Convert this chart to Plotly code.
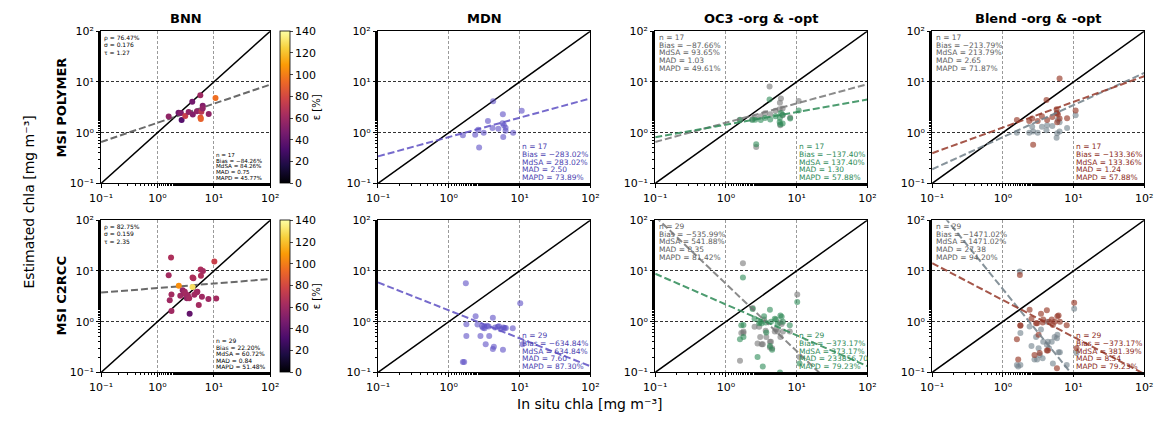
import numpy as np
import plotly.graph_objects as go
from plotly.subplots import make_subplots

# ---------------- data ----------------
col_titles = ["BNN", "MDN", "OC3 -org & -opt", "Blend -org & -opt"]
row_titles = ["MSI POLYMER", "MSI C2RCC"]
tick_vals = [0.1, 1, 10, 100]
tick_text = ["10⁻¹", "10⁰", "10¹", "10²"]
cbar_ticks = [0, 20, 40, 60, 80, 100, 120, 140]

# in situ chla (shared within a row)
insitu_top = [1.58, 2.36, 2.60, 2.68, 3.11, 3.57, 4.14, 4.23, 5.01, 5.75, 5.80, 5.87, 6.00, 6.34, 6.34, 8.10, 10.7]
insitu_bot = [1.58, 1.65, 1.74, 1.77, 1.77, 2.39, 2.54, 2.80, 2.95, 3.05, 3.20, 3.32, 3.46, 3.65, 3.72,
              4.19, 4.19, 4.33, 4.50, 4.91, 5.10, 5.40, 5.82, 5.90, 6.14, 6.40, 8.00, 10.2, 11.0]

# BNN
bnn_top_y = [2.07, 2.47, 2.45, 1.78, 2.13, 2.54, 4.06, 2.29, 2.65, 5.45, 1.98, 1.86, 2.58, 3.40, 3.00, 2.32, 4.84]
bnn_top_eps = [55, 45, 50, 35, 75, 55, 45, 50, 55, 60, 85, 90, 70, 50, 55, 55, 95]
bnn_bot_y = [8.24, 2.64, 18.4, 3.43, 1.63, 5.08, 3.24, 4.15, 3.60, 3.90, 3.45, 2.90, 3.30, 2.88, 1.43,
             7.43, 4.80, 7.20, 3.40, 3.74, 3.90, 2.12, 10.7, 8.00, 3.10, 10.0, 2.80, 15.4, 2.85]
bnn_bot_eps = [62, 60, 65, 62, 60, 105, 60, 55, 58, 60, 62, 55, 60, 62, 40,
               65, 130, 65, 60, 62, 60, 62, 65, 65, 60, 62, 60, 75, 62]

# MDN
mdn_top_y = [0.89, 0.91, 1.14, 0.51, 0.99, 1.69, 1.24, 4.17, 1.19, 1.53, 2.30, 0.82, 1.40, 1.25, 1.09, 1.00, 2.70]
mdn_bot_y = [0.16, 0.16, 5.69, 0.89, 0.52, 1.28, 0.88, 0.52, 0.80, 0.76, 0.74, 0.36, 0.83, 0.80, 0.52,
             1.19, 0.29, 0.32, 0.77, 0.79, 0.81, 0.71, 0.28, 0.77, 0.75, 0.75, 0.74, 2.30, 0.36]

# OC3 (-opt green, -org gray)
oc3_top_opt = [1.77, 1.77, 1.80, 0.59, 1.77, 1.95, 4.48, 1.82, 2.10, 1.62, 1.95, 1.46, 2.43, 1.52, 2.26, 1.90, 2.73]
oc3_top_org = [1.80, 1.85, 2.00, 0.52, 2.10, 2.40, 8.15, 2.30, 2.70, 2.90, 3.88, 1.40, 4.70, 2.20, 3.00, 2.00, 4.20]
oc3_bot_opt = [0.45, 0.85, 7.40, 0.86, 0.50, 1.77, 1.14, 0.20, 0.93, 1.00, 0.93, 0.13, 1.28, 0.96, 0.61,
               1.72, 0.33, 1.00, 0.28, 1.14, 1.10, 0.90, 0.10, 1.32, 1.25, 1.00, 0.85, 2.43, 0.15]
oc3_bot_org = [0.17, 0.60, 14.2, 0.64, 0.60, 1.85, 0.79, 0.37, 0.79, 0.50, 0.36, 0.36, 1.10, 0.66, 0.50,
               0.40, 0.31, 0.40, 0.30, 0.64, 0.70, 0.64, 0.96, 0.50, 0.90, 0.64, 0.64, 3.45, 0.20]

# Blend (-opt brown, -org gray)
bl_top_opt = [1.77, 1.69, 1.90, 0.58, 1.69, 2.10, 4.42, 1.77, 2.04, 2.90, 2.40, 1.60, 2.30, 11.7, 1.90, 1.93, 2.73]
bl_top_org = [1.00, 1.00, 1.30, 1.05, 1.00, 1.30, 1.12, 1.40, 1.36, 0.79, 2.47, 0.97, 1.80, 1.05, 1.60, 1.24, 2.20]
bl_bot_opt = [0.45, 0.18, 8.30, 0.83, 0.85, 1.72, 1.14, 0.22, 0.93, 0.93, 0.55, 0.24, 1.44, 0.96, 1.10,
              1.67, 0.27, 0.27, 1.00, 1.10, 0.86, 1.00, 0.12, 1.28, 1.32, 1.00, 0.85, 2.37, 0.30]
bl_bot_org = [0.14, 0.13, 9.70, 0.14, 0.60, 0.80, 0.33, 0.18, 0.50, 0.18, 0.30, 0.22, 0.70, 0.19, 0.40,
              1.00, 0.35, 0.40, 0.30, 0.40, 0.15, 0.50, 0.47, 0.55, 0.25, 0.25, 0.14, 1.80, 0.24]

# regression fits in log10 space: (intercept, slope)
fit_bnn_top = (0.194, 0.377)
fit_bnn_bot = (0.662, 0.089)
fit_mdn_top = (-0.087, 0.381)
fit_mdn_bot = (0.223, -0.551)
fit_oc3_top_org = (0.196, 0.380)
fit_oc3_top_opt = (0.158, 0.247)
fit_oc3_bot_org = (0.746, -1.327)
fit_oc3_bot_opt = (0.338, -0.607)
fit_bl_top_org = (-0.089, 0.633)
fit_bl_top_opt = (0.101, 0.506)
fit_bl_bot_org = (0.642, -1.720)
fit_bl_bot_opt = (0.426, -0.728)

# statistics text
bnn_top_corr = ["ρ = 76.47%", "σ = 0.176", "τ = 1.27"]
bnn_bot_corr = ["ρ = 82.75%", "σ = 0.159", "τ = 2.35"]
bnn_top_stats = ["n = 17", "Bias = −84.26%", "MdSA = 84.26%", "MAD = 0.75", "MAPD = 45.77%"]
bnn_bot_stats = ["n = 29", "Bias = 22.20%", "MdSA = 60.72%", "MAD = 0.84", "MAPD = 51.48%"]
mdn_top_stats = ["n = 17", "Bias = −283.02%", "MdSA = 283.02%", "MAD = 2.50", "MAPD = 73.89%"]
mdn_bot_stats = ["n = 29", "Bias = −634.84%", "MdSA = 634.84%", "MAD = 7.60", "MAPD = 87.30%"]
oc3_top_org_stats = ["n = 17", "Bias = −87.66%", "MdSA = 93.65%", "MAD = 1.03", "MAPD = 49.61%"]
oc3_top_opt_stats = ["n = 17", "Bias = −137.40%", "MdSA = 137.40%", "MAD = 1.30", "MAPD = 57.88%"]
oc3_bot_org_stats = ["n = 29", "Bias = −535.99%", "MdSA = 541.88%", "MAD = 8.35", "MAPD = 81.42%"]
oc3_bot_opt_stats = ["n = 29", "Bias = −373.17%", "MdSA = 373.17%", "MAD = 233856.70", "MAPD = 79.23%"]
bl_top_org_stats = ["n = 17", "Bias = −213.79%", "MdSA = 213.79%", "MAD = 2.65", "MAPD = 71.87%"]
bl_top_opt_stats = ["n = 17", "Bias = −133.36%", "MdSA = 133.36%", "MAD = 1.24", "MAPD = 57.88%"]
bl_bot_org_stats = ["n = 29", "Bias = −1471.02%", "MdSA = 1471.02%", "MAD = 27.38", "MAPD = 94.20%"]
bl_bot_opt_stats = ["n = 29", "Bias = −373.17%", "MdSA = 381.39%", "MAD = 8.54", "MAPD = 79.23%"]

# ---------------- styling ----------------
FONT = "DejaVu Sans"
W, H = 1168, 423
PURPLE = "#5e50c4"
PURPLE_TXT = "#4b3fb0"
GREEN = "#2e8b57"
GRAY = "#777777"
GRAY_TXT = "#606060"
BROWN = "#96392a"
BROWN_TXT = "#8b2a1a"
SLATE = "#72808a"

x_px = [(90.7, 263), (372.7, 589), (655, 871), (937, 1153)]
y_px = [(26, 183), (221, 378)]
PH = 157.0

fig = make_subplots(rows=2, cols=4)


def axis_id(r, c):
    return r * 4 + c + 1


def add_fit(r, c, fit, color):
    xs = np.array([0.1, 100.0])
    ys = 10 ** (fit[0] + fit[1] * np.log10(xs))
    fig.add_trace(go.Scatter(x=xs, y=ys, mode="lines", showlegend=False,
                             line=dict(color=color, width=2, dash="7px,3px"), opacity=0.85,
                             hoverinfo="skip"),
                  row=r + 1, col=c + 1)


def add_one2one(r, c):
    fig.add_trace(go.Scatter(x=[0.1, 100], y=[0.1, 100], mode="lines", showlegend=False,
                             line=dict(color="black", width=1.5), hoverinfo="skip"),
                  row=r + 1, col=c + 1)


def add_pts(r, c, x, y, color, opacity=0.6):
    fig.add_trace(go.Scatter(x=x, y=y, mode="markers", showlegend=False,
                             marker=dict(color=color, size=6, opacity=opacity, line=dict(width=0))),
                  row=r + 1, col=c + 1)


def add_text(r, c, lines, color, where, size=7.5, step=7.9):
    n = axis_id(r, c)
    xr = "x domain" if n == 1 else f"x{n} domain"
    yr = "y domain" if n == 1 else f"y{n} domain"
    k = len(lines)
    for i, t in enumerate(lines):
        if where == "tl":
            off = 6.5 + i * step
            xf = 0.012
        else:
            off = PH - 6 - (k - 1 - i) * step
            xf = 0.675
        fig.add_annotation(x=xf, y=1 - off / PH, xref=xr, yref=yr, xanchor="left", yanchor="middle",
                           text=t, showarrow=False, align="left", borderpad=0,
                           font=dict(family=FONT, size=size, color=color))


# BNN
bnn_txt = [(6, 7.7, 5.6, 5.8), (6, 7.5, 6, 6.7)]
for r, (y, eps, fit, corr, stats) in enumerate([
        (bnn_top_y, bnn_top_eps, fit_bnn_top, bnn_top_corr, bnn_top_stats),
        (bnn_bot_y, bnn_bot_eps, fit_bnn_bot, bnn_bot_corr, bnn_bot_stats)]):
    x = insitu_top if r == 0 else insitu_bot
    add_one2one(r, 0)
    add_fit(r, 0, fit, "#505050")
    yc = 1 - (y_px[r][0] + y_px[r][1]) / 2 / H
    fig.add_trace(go.Scatter(
        x=x, y=y, mode="markers", showlegend=False,
        marker=dict(color=eps, colorscale="Inferno", cmin=0, cmax=140, size=6, line=dict(width=0),
                    colorbar=dict(x=273 / W, xanchor="left", xpad=0, ypad=0, y=yc, yanchor="middle",
                                  len=(y_px[r][1] - y_px[r][0]) / H, lenmode="fraction",
                                  thickness=10, thicknessmode="pixels",
                                  tickvals=cbar_ticks, ticks="outside", ticklen=3,
                                  outlinewidth=0.8, outlinecolor="black",
                                  tickfont=dict(family=FONT, size=11, color="black"),
                                  title=dict(text="ε [%]", side="right",
                                             font=dict(family=FONT, size=10, color="black"))))),
        row=r + 1, col=1)
    s1, st1, s2, st2 = bnn_txt[r]
    add_text(r, 0, corr, "black", "tl", size=s1, step=st1)
    add_text(r, 0, stats, "black", "br", size=s2, step=st2)

# MDN
for r, (y, fit, stats) in enumerate([(mdn_top_y, fit_mdn_top, mdn_top_stats),
                                     (mdn_bot_y, fit_mdn_bot, mdn_bot_stats)]):
    x = insitu_top if r == 0 else insitu_bot
    add_one2one(r, 1)
    add_pts(r, 1, x, y, PURPLE, 0.6)
    add_fit(r, 1, fit, PURPLE)
    add_text(r, 1, stats, PURPLE_TXT, "br")

# OC3
for r, (yo, yp, fo, fp, so, sp) in enumerate([
        (oc3_top_org, oc3_top_opt, fit_oc3_top_org, fit_oc3_top_opt, oc3_top_org_stats, oc3_top_opt_stats),
        (oc3_bot_org, oc3_bot_opt, fit_oc3_bot_org, fit_oc3_bot_opt, oc3_bot_org_stats, oc3_bot_opt_stats)]):
    x = insitu_top if r == 0 else insitu_bot
    add_one2one(r, 2)
    add_pts(r, 2, x, yo, GRAY, 0.6)
    add_pts(r, 2, x, yp, GREEN, 0.6)
    add_fit(r, 2, fo, GRAY)
    add_fit(r, 2, fp, GREEN)
    add_text(r, 2, so, GRAY_TXT, "tl")
    add_text(r, 2, sp, GREEN, "br")

# Blend
for r, (yo, yp, fo, fp, so, sp) in enumerate([
        (bl_top_org, bl_top_opt, fit_bl_top_org, fit_bl_top_opt, bl_top_org_stats, bl_top_opt_stats),
        (bl_bot_org, bl_bot_opt, fit_bl_bot_org, fit_bl_bot_opt, bl_bot_org_stats, bl_bot_opt_stats)]):
    x = insitu_top if r == 0 else insitu_bot
    add_one2one(r, 3)
    add_pts(r, 3, x, yo, SLATE, 0.6)
    add_pts(r, 3, x, yp, BROWN, 0.65)
    add_fit(r, 3, fo, SLATE)
    add_fit(r, 3, fp, BROWN)
    add_text(r, 3, so, GRAY_TXT, "tl")
    add_text(r, 3, sp, BROWN_TXT, "br")

# axes
for r in range(2):
    for c in range(4):
        n = axis_id(r, c)
        xk = "xaxis" if n == 1 else f"xaxis{n}"
        yk = "yaxis" if n == 1 else f"yaxis{n}"
        common = dict(type="log", range=[-1, 2], tickvals=tick_vals, ticktext=tick_text,
                      showgrid=True, griddash="3px,2px", gridwidth=0.8,
                      showline=True, linecolor="black", linewidth=1, mirror=True,
                      ticks="outside", ticklen=4, tickcolor="black",
                      minor=dict(ticks="outside", ticklen=2, tickcolor="black", showgrid=False),
                      tickfont=dict(family=FONT, size=11, color="black"), zeroline=False)
        fig.layout[xk].update(domain=[x_px[c][0] / W, x_px[c][1] / W], gridcolor="#9a9a9a", **common)
        fig.layout[yk].update(domain=[1 - y_px[r][1] / H, 1 - y_px[r][0] / H], gridcolor="#333333", **common)

# column titles
for c, t in enumerate(col_titles):
    fig.add_annotation(x=(x_px[c][0] + x_px[c][1]) / 2 / W, y=1 - 13 / H, xref="paper", yref="paper",
                       text=f"<b>{t}</b>", showarrow=False, xanchor="center", yanchor="middle",
                       font=dict(family=FONT, size=13, color="black"))
# row titles
for r, t in enumerate(row_titles):
    fig.add_annotation(x=50 / W, y=1 - (y_px[r][0] + y_px[r][1]) / 2 / H, xref="paper", yref="paper",
                       text=f"<b>{t}</b>", showarrow=False, textangle=-90, xanchor="center", yanchor="middle",
                       font=dict(family=FONT, size=13, color="black"))
# global axis titles
fig.add_annotation(x=17 / W, y=1 - 202 / H, xref="paper", yref="paper",
                   text="Estimated chla [mg m⁻³]", showarrow=False, textangle=-90,
                   xanchor="center", yanchor="middle", font=dict(family=FONT, size=14, color="black"))
fig.add_annotation(x=588 / W, y=1 - 411 / H, xref="paper", yref="paper",
                   text="In situ chla [mg m⁻³]", showarrow=False,
                   xanchor="center", yanchor="middle", font=dict(family=FONT, size=14, color="black"))

fig.update_layout(width=W, height=H, margin=dict(l=0, r=0, t=0, b=0),
                  paper_bgcolor="white", plot_bgcolor="white",
                  font=dict(family=FONT, color="black"), showlegend=False)

fig.write_html("out.html",
               post_script="document.body.style.margin='0';document.body.style.padding='0';"
                           "document.documentElement.style.overflow='hidden';")
